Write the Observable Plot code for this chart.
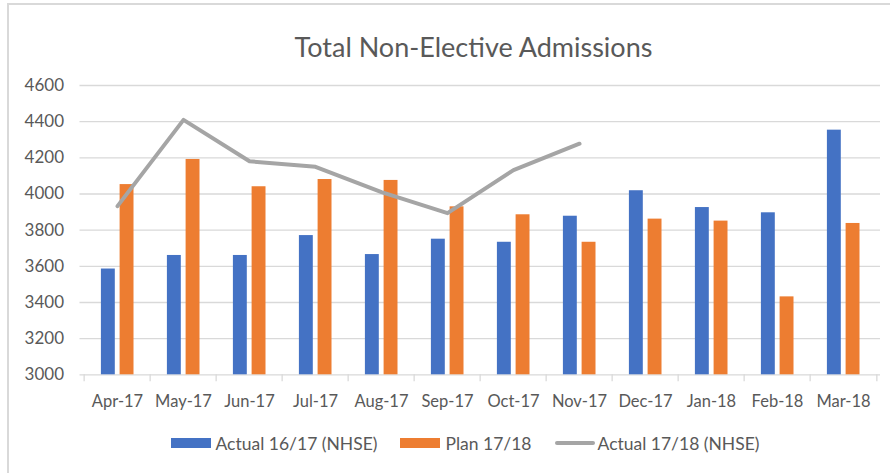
<!DOCTYPE html>
<html>
<head>
<meta charset="utf-8">
<script src="https://cdn.jsdelivr.net/npm/d3@7"></script>
<script src="https://cdn.jsdelivr.net/npm/@observablehq/plot@0.6"></script>
<style>
  html, body { margin: 0; padding: 0; background: #fff; overflow: hidden; }
  #wrap { position: relative; width: 890px; height: 473px; overflow: hidden; font-family: Lato, "Open Sans", sans-serif; color: #595959; }
  #frame { position: absolute; left: 7px; top: 3px; width: 920px; height: 520px; border: 2px solid #d9d9d9; box-sizing: border-box; }
  #title { position: absolute; top: 30px; left: 0; width: 947px; text-align: center; font-size: 27px; font-weight: 400; color: #595959; }
  #chart { position: absolute; left: 0; top: 0; }
  #legend { position: absolute; top: 432px; left: 0; width: 930px; display: flex; justify-content: center; font-size: 17.5px; color: #595959; white-space: nowrap; }
  .lg { display: flex; align-items: center; height: 22px; margin: 0 11.5px; }
  .sw { display: inline-block; width: 40px; height: 10px; margin-right: 5px; }
  .ln { display: inline-block; width: 40px; height: 4px; border-radius: 2px; margin-right: 3px; }
</style>
</head>
<body>
<div id="wrap">
  <div id="frame"></div>
  <div id="title">Total Non-Elective Admissions</div>
  <div id="chart"></div>
  <div id="legend">
    <div class="lg"><span class="sw" style="background:#4472C4"></span>Actual 16/17 (NHSE)</div>
    <div class="lg"><span class="sw" style="background:#ED7D31"></span>Plan 17/18</div>
    <div class="lg"><span class="ln" style="background:#A5A5A5"></span>Actual 17/18 (NHSE)</div>
  </div>
</div>
<script>
const months = ["Apr-17","May-17","Jun-17","Jul-17","Aug-17","Sep-17","Oct-17","Nov-17","Dec-17","Jan-18","Feb-18","Mar-18"];
const actual1617 = [3585, 3660, 3660, 3770, 3665, 3750, 3733, 3877, 4018, 3925, 3896, 4353];
const plan1718 = [4052, 4191, 4040, 4080, 4075, 3929, 3885, 3733, 3861, 3850, 3431, 3837];
const actual1718Months = ["Apr-17","May-17","Jun-17","Jul-17","Aug-17","Sep-17","Oct-17","Nov-17"];
const actual1718 = [3933, 4410, 4181, 4150, 4010, 3894, 4132, 4278];
const yTicks = [3000, 3200, 3400, 3600, 3800, 4000, 4200, 4400, 4600];

const blueData = months.map((m, i) => ({month: m, value: actual1617[i]}));
const orangeData = months.map((m, i) => ({month: m, value: plan1718[i]}));
const lineData = actual1718Months.map((m, i) => ({month: m, value: actual1718[i]}));

const W = 890, H = 420, mL = 79.5, mR = 10;
const bw = (W - mL - mR) / months.length;

const chart = Plot.plot({
  width: W,
  height: H,
  marginLeft: mL,
  marginRight: mR,
  marginTop: 85,
  marginBottom: 45.7,
  style: {fontFamily: "Lato, 'Open Sans', sans-serif", color: "#595959", background: "transparent"},
  x: {type: "band", domain: months, padding: 0, label: null},
  y: {domain: [3000, 4600], label: null},
  marks: [
    Plot.ruleY(yTicks, {stroke: "#d9d9d9", strokeWidth: 1.3}),
    Plot.ruleX(months, {x: d => d, dx: -bw / 2, y1: 3000, y2: 3000, insetBottom: -7, stroke: "#d9d9d9", strokeWidth: 1.3}),
    Plot.ruleX(months.slice(-1), {x: d => d, dx: bw / 2, y1: 3000, y2: 3000, insetBottom: -7, stroke: "#d9d9d9", strokeWidth: 1.3}),
    Plot.barY(blueData, {x: "month", y1: 3000, y2: "value", fill: "#4472C4", insetLeft: 16.9, insetRight: 35.2}),
    Plot.barY(orangeData, {x: "month", y1: 3000, y2: "value", fill: "#ED7D31", insetLeft: 35.6, insetRight: 16.5}),
    Plot.line(lineData, {x: "month", y: "value", stroke: "#A5A5A5", strokeWidth: 4, strokeLinejoin: "round", strokeLinecap: "round"}),
    Plot.axisY({ticks: yTicks, tickSize: 0, tickPadding: 16, fontSize: 17, tickFormat: d => String(d), label: null, fill: "#595959"}),
    Plot.axisX({tickSize: 0, tickPadding: 20, fontSize: 16.5, label: null, fill: "#595959"})
  ]
});
document.getElementById("chart").appendChild(chart);
</script>
</body>
</html>
